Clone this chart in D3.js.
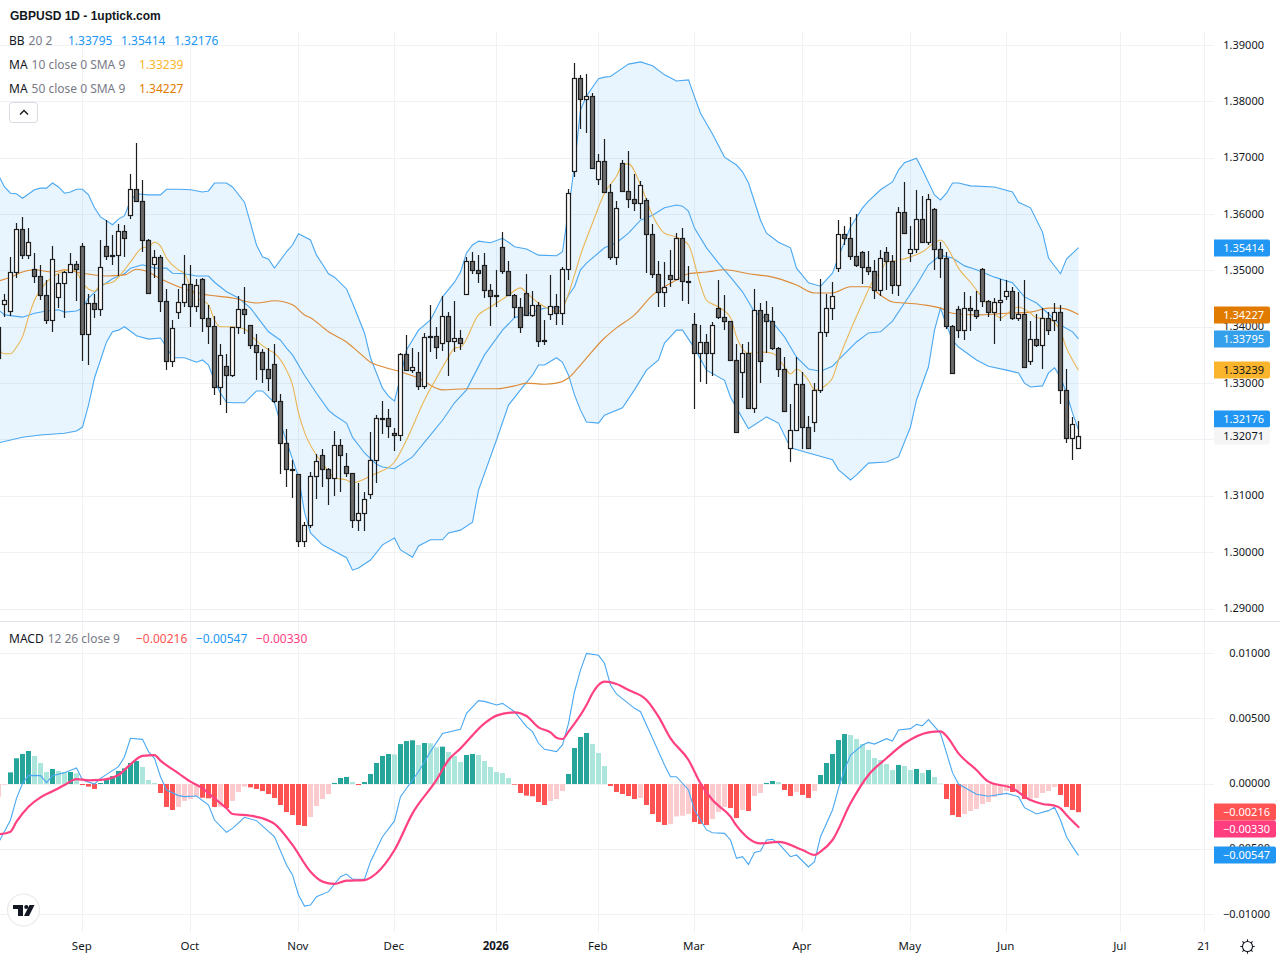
<!DOCTYPE html>
<html>
<head>
<meta charset="utf-8">
<title>GBPUSD 1D</title>
<script src="https://cdn.jsdelivr.net/npm/d3@7/dist/d3.min.js"></script>
<style>
html,body{margin:0;padding:0;background:#fff;}
svg{display:block;}
text{font-family:"Noto Sans",Roboto,sans-serif;}
</style>
</head>
<body>
<svg id="chart" width="1280" height="960"></svg>
<script>
// Daily OHLC, session index -1 is the first (partly cut off) candle.
const firstSession = -1;
const opens = [1.34011,1.34407,1.34295,1.34975,1.35738,1.35277,1.35028,1.34904,1.34567,1.34123,1.34532,1.3478,1.34975,1.35117,1.35437,1.33875,1.34425,1.34319,1.35437,1.35277,1.35277,1.35703,1.35987,1.36448,1.36235,1.35543,1.35117,1.35241,1.34461,1.33396,1.34265,1.34443,1.34762,1.34372,1.34851,1.34159,1.34017,1.32935,1.33307,1.33148,1.33999,1.34319,1.34035,1.3368,1.33556,1.33254,1.33343,
1.32686,1.31941,1.31479,1.31391,1.30202,1.30486,1.31355,1.31728,1.31479,1.3132,1.31905,1.31533,1.31408,1.30574,1.30699,1.31036,1.31639,1.32384,1.32384,1.32118,1.32083,1.3352,1.33236,1.33201,1.32952,1.3384,1.3384,1.33715,1.34194,
1.33751,1.33804,1.34585,1.3517,1.35011,1.35099,1.34656,1.34567,1.35419,1.34993,1.34567,1.34354,1.34603,1.34212,1.3439,1.33769,1.3423,1.34372,1.34248,1.35028,1.36767,1.38418,1.38045,1.38098,1.36626,1.36945,1.36395,1.35241,1.36909,1.36413,1.36271,1.362,1.36253,1.3565,1.3494,1.3462,1.34922,1.34851,1.35579,1.34816,
1.34053,1.33538,1.33733,1.33538,1.34336,1.34177,1.34106,1.33414,1.33201,1.33538,1.32562,1.34301,1.3423,1.34106,1.33627,1.33254,1.31852,1.32172,1.32988,1.32225,1.32313,1.32881,1.33911,1.34336,1.35046,1.3565,1.35579,1.35259,1.3533,1.35064,
1.34993,1.34656,1.3533,1.3517,1.34745,1.3604,1.35312,1.35383,1.35916,1.35508,1.36093,1.35383,1.35224,1.34017,1.34319,1.33946,1.34336,1.34301,1.35028,1.34461,1.34265,1.34443,1.34549,1.34638,1.34159,1.3423,1.33396,1.33786,1.3368,1.34159,1.34123,1.34265,1.32881,1.3203,1.31852];
const highs = [1.34129,1.34591,1.35247,1.35845,1.35951,1.35756,1.35312,1.35105,1.34833,1.35437,1.34946,1.35,1.35312,1.35176,1.3549,1.34591,1.34591,1.35543,1.35898,1.35632,1.35827,1.35809,1.36714,1.37264,1.36608,1.35562,1.35366,1.35277,1.34674,1.34123,1.34674,1.35277,1.35105,1.34851,1.34869,1.3439,1.34194,1.33698,1.33526,1.34005,1.34549,1.34709,1.34047,1.33875,1.33609,1.33627,1.33698,
1.3281,1.32195,1.31639,1.31391,1.30539,1.31426,1.31746,1.31834,1.31497,1.32154,1.32012,1.31763,1.31408,1.31237,1.31083,1.32136,1.32438,1.32692,1.32544,1.32207,1.33538,1.33857,1.33627,1.33556,1.33893,1.3439,1.33999,1.34555,1.34265,
1.34461,1.33946,1.35241,1.3533,1.35277,1.35312,1.34762,1.35011,1.35685,1.3517,1.34585,1.34514,1.3494,1.34638,1.34443,1.34123,1.34922,1.34585,1.35064,1.36448,1.38684,1.38471,1.38489,1.38152,1.37069,1.37335,1.36537,1.36235,1.36963,1.37122,1.36714,1.3659,1.36288,1.35827,1.3517,1.35153,1.35366,1.35667,1.35756,1.35082,
1.34248,1.34035,1.33875,1.34088,1.34833,1.34567,1.34118,1.33698,1.33698,1.33733,1.34674,1.34425,1.34461,1.34354,1.33645,1.33467,1.32633,1.33467,1.33201,1.3242,1.33006,1.34851,1.34585,1.34798,1.35898,1.35792,1.35951,1.36004,1.35348,1.35348,
1.35188,1.35366,1.35419,1.35277,1.36129,1.36572,1.35792,1.3643,1.36324,1.36359,1.36112,1.35508,1.3533,1.34035,1.34372,1.3462,1.34549,1.34638,1.35046,1.34479,1.34514,1.34851,1.34833,1.34709,1.3462,1.34833,1.34106,1.3423,1.34336,1.34265,1.34425,1.3439,1.33254,1.32402,1.32331];
const lows = [1.3342,1.34189,1.34206,1.34881,1.35218,1.35218,1.34792,1.34484,1.34064,1.33922,1.34342,1.34171,1.34975,1.34467,1.33408,1.33337,1.34171,1.34206,1.352,1.35111,1.34916,1.35253,1.35922,1.36217,1.35342,1.34585,1.34869,1.34277,1.33248,1.33301,1.34153,1.34366,1.34011,1.34277,1.33922,1.33709,1.32804,1.32627,1.32485,1.33112,1.33887,1.33875,1.33609,1.33071,1.33006,1.32875,1.32651,
1.31403,1.31172,1.30977,1.30107,1.30107,1.30438,1.30959,1.31172,1.30852,1.31012,1.31083,1.31349,1.30444,1.30391,1.30391,1.30959,1.31243,1.32106,1.3203,1.31811,1.31988,1.33218,1.33183,1.32881,1.32899,1.33556,1.33431,1.33573,1.3313,
1.33556,1.33591,1.34567,1.3494,1.3478,1.34514,1.34029,1.34354,1.3494,1.3455,1.34159,1.33905,1.34195,1.34177,1.33644,1.3368,1.34123,1.34035,1.34035,1.34833,1.36661,1.37513,1.37442,1.36803,1.36519,1.36377,1.35188,1.35099,1.36395,1.36111,1.36058,1.35916,1.34958,1.34869,1.34354,1.34354,1.34709,1.34833,1.34461,1.34407,
1.32544,1.33035,1.32988,1.3313,1.34141,1.33946,1.33396,1.32118,1.32739,1.32544,1.32473,1.33006,1.33538,1.33591,1.33112,1.32497,1.31604,1.32154,1.31834,1.31834,1.32136,1.32828,1.33822,1.34123,1.34975,1.35454,1.35188,1.35064,1.34762,1.34922,
1.34496,1.34549,1.34656,1.34585,1.34549,1.3565,1.35153,1.35312,1.3549,1.35454,1.35011,1.34869,1.33964,1.33165,1.33804,1.33769,1.33928,1.34141,1.34354,1.34177,1.33698,1.34106,1.34478,1.34123,1.34106,1.33271,1.33325,1.33644,1.33254,1.33857,1.33928,1.32633,1.31941,1.31639,1.31852];
const closes = [1.33461,1.34478,1.34975,1.35738,1.35277,1.35508,1.34904,1.34567,1.34123,1.35206,1.3478,1.34975,1.35117,1.35028,1.33875,1.34425,1.34319,1.35064,1.35259,1.35259,1.35703,1.35579,1.36448,1.36235,1.35543,1.34603,1.35241,1.34461,1.33396,1.33982,1.34443,1.34762,1.34372,1.34745,1.34159,1.34017,1.32935,1.33502,1.33148,1.33999,1.34319,1.3423,1.3368,1.33556,1.33254,1.33094,1.32686,
1.31941,1.31479,1.31473,1.30202,1.30486,1.31355,1.31621,1.31479,1.3132,1.31905,1.31728,1.31408,1.30574,1.30699,1.30947,1.31639,1.32384,1.32378,1.32243,1.32083,1.3352,1.33236,1.33289,1.32952,1.33822,1.33822,1.33644,1.34194,1.33751,
1.33804,1.33715,1.3517,1.35011,1.34958,1.34656,1.34549,1.34549,1.34993,1.34567,1.34354,1.33999,1.34212,1.3439,1.33751,1.33751,1.34372,1.34248,1.35028,1.36377,1.38418,1.38045,1.38098,1.36821,1.36945,1.36395,1.35241,1.36111,1.36413,1.36271,1.362,1.36519,1.3565,1.3494,1.3462,1.34709,1.34851,1.35579,1.34816,1.34804,
1.33538,1.33733,1.33538,1.34035,1.34177,1.34106,1.33414,1.32136,1.33538,1.32562,1.34301,1.33396,1.34106,1.33627,1.33254,1.32509,1.32172,1.32988,1.32225,1.31852,1.32881,1.33911,1.34336,1.34549,1.3565,1.35579,1.35259,1.35099,1.35064,1.34993,
1.34656,1.35224,1.3517,1.34745,1.3604,1.35667,1.35383,1.35916,1.35508,1.36271,1.35383,1.35224,1.34017,1.33183,1.33946,1.34336,1.34301,1.34194,1.34461,1.34265,1.34443,1.34478,1.34638,1.34159,1.3423,1.33289,1.33786,1.3368,1.34159,1.33946,1.34265,1.32881,1.3203,1.32278,1.32071];

// Bollinger bands and moving averages as [session, price] readings.
const bbUpper = [[-1,1.3670],[0,1.3649],[1,1.3638],[2,1.3637],[3,1.3629],[5,1.3644],[6,1.3647],[7,1.3647],[8,1.3656],[9,1.3649],[10,1.3638],[11,1.3640],[12,1.3645],[13,1.3645],[14,1.3635],[15,1.3612],[16,1.3596],[18,1.3582],[19,1.3592],[20,1.3598],[21,1.3625],[22,1.3637],[24,1.3635],[26,1.3635],[27,1.3645],[29,1.3645],[31,1.3644],[33,1.3640],[34,1.3642],[35,1.3656],[37,1.3656],[38,1.3649],[40,1.3622],[41,1.3585],[42,1.3546],[43,1.3525],[44,1.3521],[45,1.3505],[47,1.3534],[48,1.3546],[49,1.3566],[51,1.3555],[52,1.3528],[53,1.3512],[54,1.3495],[55,1.3489],[57,1.3468],[58,1.3443],[60,1.3390],[61,1.3346],[62,1.3319],[63,1.3292],[64,1.3278],[65,1.3269],[66,1.3312],[67,1.3360],[69,1.3395],[71,1.3413],[73,1.3454],[75,1.3480],[76,1.3498],[77,1.3532],[78,1.3546],[79,1.3553],[81,1.3550],[83,1.3558],[84,1.3551],[85,1.3543],[87,1.3539],[89,1.3528],[92,1.3527],[93,1.3534],[94,1.3608],[95,1.3688],[96,1.3786],[97,1.3810],[98,1.3826],[99,1.3841],[100,1.3844],[101,1.3845],[103,1.3860],[104,1.3867],[106,1.3871],[108,1.3864],[110,1.3848],[112,1.3837],[114,1.3839],[115,1.3809],[116,1.3780],[118,1.3743],[120,1.3702],[122,1.3688],[123,1.3676],[124,1.3656],[126,1.3590],[127,1.3567],[129,1.3551],[131,1.3541],[132,1.3505],[134,1.3479],[136,1.3473],[138,1.3496],[139,1.3525],[141,1.3578],[143,1.3612],[144,1.3624],[146,1.3644],[148,1.3658],[149,1.3679],[150,1.3692],[152,1.3700],[153,1.3679],[155,1.3635],[156,1.3626],[157,1.3638],[158,1.3656],[159,1.3656],[161,1.3651],[165,1.3649],[168,1.3640],[169,1.3622],[171,1.3612],[173,1.3569],[174,1.3523],[176,1.3495],[177,1.3521],[179,1.35414]];
const bbMiddle = [[-1,1.3431],[0,1.3422],[3,1.3418],[5,1.3425],[7,1.3429],[9,1.3431],[10,1.3427],[12,1.3429],[13,1.3434],[14,1.3452],[16,1.3472],[18,1.3486],[20,1.3495],[21,1.3505],[23,1.3511],[25,1.3505],[27,1.3505],[28,1.3496],[30,1.3495],[32,1.3491],[34,1.3491],[35,1.3480],[37,1.3463],[39,1.3452],[41,1.3434],[44,1.3392],[46,1.3377],[47,1.3363],[48,1.3351],[50,1.3315],[52,1.3283],[54,1.3253],[55,1.3244],[57,1.3230],[58,1.3205],[60,1.3177],[62,1.3157],[63,1.3152],[65,1.3149],[68,1.3170],[71,1.3209],[73,1.3235],[75,1.3266],[77,1.3289],[80,1.3351],[83,1.3395],[85,1.3417],[88,1.3427],[90,1.3434],[93,1.3436],[94,1.3457],[95,1.3472],[96,1.3502],[97,1.3514],[100,1.3541],[102,1.3550],[104,1.3567],[106,1.3590],[108,1.3599],[110,1.3612],[112,1.3617],[113,1.3615],[114,1.3606],[115,1.3576],[117,1.3541],[119,1.3514],[121,1.3489],[123,1.3463],[125,1.3427],[128,1.3409],[130,1.3383],[132,1.3347],[134,1.3326],[136,1.3322],[138,1.3331],[139,1.3342],[142,1.3374],[144,1.3390],[146,1.3392],[148,1.3411],[150,1.3443],[152,1.3475],[154,1.3511],[156,1.3528],[158,1.3523],[160,1.3509],[162,1.3502],[165,1.3489],[168,1.3479],[170,1.3454],[172,1.3443],[174,1.3424],[176,1.3404],[178,1.3392],[179,1.33795]];
const bbLower = [[-1,1.3195],[3,1.3205],[6,1.3209],[10,1.3212],[12,1.3216],[13,1.3223],[14,1.3262],[15,1.3310],[16,1.3342],[17,1.3374],[18,1.3392],[19,1.3395],[20,1.3401],[22,1.3385],[24,1.3379],[26,1.3381],[27,1.3365],[28,1.3346],[30,1.3346],[32,1.3338],[33,1.3342],[34,1.3333],[35,1.3305],[36,1.3283],[37,1.3267],[38,1.3266],[40,1.3266],[42,1.3287],[43,1.3287],[45,1.3266],[46,1.3230],[49,1.3134],[50,1.3072],[51,1.3035],[53,1.3014],[57,1.2991],[58,1.2969],[59,1.2973],[61,1.2987],[63,1.3014],[65,1.3026],[66,1.3005],[68,1.2992],[69,1.3012],[71,1.3023],[73,1.3023],[74,1.3035],[76,1.3040],[78,1.3054],[79,1.3111],[82,1.3200],[84,1.3262],[86,1.3289],[88,1.3315],[89,1.3333],[90,1.3333],[92,1.3346],[93,1.3338],[94,1.3315],[95,1.3280],[96,1.3253],[97,1.3232],[99,1.3230],[100,1.3244],[103,1.3257],[105,1.3289],[107,1.3324],[109,1.3342],[110,1.3372],[112,1.3395],[113,1.3395],[115,1.3363],[117,1.3324],[120,1.3306],[121,1.3276],[122,1.3257],[124,1.3220],[127,1.3241],[129,1.3230],[131,1.3186],[134,1.3177],[137,1.3168],[138,1.3165],[139,1.3147],[141,1.3129],[142,1.3138],[144,1.3159],[147,1.3161],[149,1.3170],[151,1.3223],[152,1.3271],[154,1.3330],[155,1.3395],[156,1.3434],[157,1.3404],[158,1.3377],[159,1.3365],[162,1.3342],[164,1.3331],[167,1.3324],[169,1.3319],[170,1.3301],[171,1.3294],[173,1.3296],[174,1.3319],[175,1.3328],[176,1.3312],[177,1.3283],[178,1.3248],[179,1.32176]];
const ma10 = [[-1,1.3360],[0,1.3353],[1,1.3353],[2,1.3365],[3,1.3383],[4,1.3418],[5,1.3448],[6,1.3466],[7,1.3480],[9,1.3496],[11,1.3503],[12,1.3498],[13,1.3479],[14,1.3468],[15,1.3464],[16,1.3475],[18,1.3480],[20,1.3502],[21,1.3516],[23,1.3541],[24,1.3543],[25,1.3551],[26,1.3544],[27,1.3523],[29,1.3502],[30,1.3495],[31,1.3472],[32,1.3454],[34,1.3440],[35,1.3413],[36,1.3401],[38,1.3401],[40,1.3397],[42,1.3376],[44,1.3360],[45,1.3354],[47,1.3324],[48,1.3298],[49,1.3248],[50,1.3214],[52,1.3173],[53,1.3159],[55,1.3133],[57,1.3129],[58,1.3124],[61,1.3136],[62,1.3141],[65,1.3161],[67,1.3200],[70,1.3271],[72,1.3310],[74,1.3347],[75,1.3363],[76,1.3365],[79,1.3422],[81,1.3436],[84,1.3457],[86,1.3470],[87,1.3461],[89,1.3443],[91,1.3431],[92,1.3427],[93,1.3434],[95,1.3493],[96,1.3528],[98,1.3585],[100,1.3638],[102,1.3668],[103,1.3688],[104,1.3690],[106,1.3653],[108,1.3599],[110,1.3567],[112,1.3560],[114,1.3546],[116,1.3475],[117,1.3448],[119,1.3436],[121,1.3417],[122,1.3383],[124,1.3354],[126,1.3356],[128,1.3354],[130,1.3330],[131,1.3317],[132,1.3326],[134,1.3306],[135,1.3289],[137,1.3298],[138,1.3310],[139,1.3342],[141,1.3395],[143,1.3443],[145,1.3487],[146,1.3498],[147,1.3516],[149,1.3519],[151,1.3525],[153,1.3534],[155,1.3550],[156,1.3555],[158,1.3525],[159,1.3505],[161,1.3480],[163,1.3452],[164,1.3438],[166,1.3417],[168,1.3431],[169,1.3436],[171,1.3425],[172,1.3417],[174,1.3415],[176,1.3393],[177,1.3363],[178,1.3342],[179,1.33239]];
const ma50 = [[-1,1.3482],[1,1.3489],[3,1.3498],[5,1.3502],[8,1.3498],[10,1.3502],[13,1.3496],[17,1.3491],[20,1.3493],[22,1.3503],[24,1.3498],[26,1.3486],[29,1.3472],[33,1.3459],[38,1.3452],[42,1.3443],[45,1.3447],[48,1.3440],[50,1.3422],[51,1.3417],[54,1.3392],[57,1.3374],[59,1.3356],[61,1.3338],[63,1.3330],[66,1.3321],[69,1.3310],[72,1.3292],[73,1.3289],[77,1.3291],[82,1.3291],[85,1.3296],[87,1.3301],[90,1.3299],[92,1.3301],[94,1.3310],[96,1.3333],[100,1.3381],[102,1.3399],[105,1.3422],[108,1.3457],[112,1.3484],[114,1.3495],[117,1.3498],[120,1.3502],[124,1.3495],[128,1.3489],[132,1.3475],[135,1.3461],[138,1.3461],[141,1.3472],[144,1.3472],[146,1.3457],[148,1.3445],[150,1.3443],[153,1.3440],[156,1.3434],[158,1.3425],[162,1.3422],[167,1.3425],[171,1.3427],[174,1.3434],[176,1.3434],[179,1.34227]];

// MACD pane: histogram per session, then the two lines as readings.
const macdHist = [-0.00097,-0.00005,0.00089,0.00197,0.0023,0.00253,0.00215,0.00161,0.00092,0.00115,0.001,0.00089,0.00092,0.00082,-0.00008,-0.0002,-0.00038,0.00008,0.00038,0.00061,0.001,0.0012,0.00161,0.00176,0.0013,0.00031,0.00008,-0.00069,-0.00176,-0.00199,-0.00176,-0.0013,-0.00115,-0.00094,-0.00105,-0.0011,-0.00176,-0.00174,-0.00184,-0.0013,-0.00061,-0.0002,-0.00026,-0.00038,-0.00054,-0.00077,-0.00107,-0.00161,-0.00215,-0.00238,-0.00314,-0.00322,-0.00253,-0.00169,-0.00115,-0.00077,0.00008,0.00046,0.00054,0.00015,-0.00008,0.00015,0.00077,0.00161,0.00215,0.0023,0.00227,0.00306,0.00329,0.00335,0.00299,0.00314,0.00312,0.00281,0.00286,0.00245,0.00215,0.00169,0.00222,0.0023,0.00222,0.00176,0.0013,0.00092,0.00084,0.00046,-0.00005,-0.00069,-0.00089,-0.00094,-0.00138,-0.00161,-0.0013,-0.00115,-0.00054,0.00077,0.00276,0.0036,0.00391,0.00306,0.00238,0.00138,-0.00015,-0.00061,-0.00077,-0.00092,-0.00115,-0.00107,-0.00161,-0.0023,-0.00291,-0.00314,-0.00306,-0.00248,-0.00243,-0.0023,-0.00291,-0.00306,-0.00314,-0.00268,-0.00215,-0.00176,-0.00184,-0.00261,-0.00199,-0.00207,-0.00092,-0.00069,0.00008,0.00023,0.00015,-0.00046,-0.00092,-0.00061,-0.00084,-0.00107,-0.00054,0.00069,0.00161,0.0023,0.00337,0.00383,0.00375,0.00345,0.00306,0.00261,0.00199,0.00184,0.00153,0.00107,0.00146,0.00138,0.00107,0.00115,0.00084,0.00107,0.00054,0.00003,-0.00115,-0.00238,-0.00253,-0.0023,-0.00207,-0.00192,-0.00153,-0.00138,-0.001,-0.00084,-0.00054,-0.00061,-0.00054,-0.00115,-0.00112,-0.00107,-0.00069,-0.00054,-0.00023,-0.00084,-0.00176,-0.00199,-0.00216];
const macdLine = [[-1,-0.0045],[1,-0.00276],[2,-0.0011],[3,0.00005],[4,0.00066],[6,0.00064],[7,0.0001],[8,0.00064],[10,0.00087],[12,0.00123],[13,0.00031],[15,0],[16,0.00043],[19,0.00133],[20,0.00209],[21,0.0035],[23,0.00342],[24,0.00248],[25,0.00197],[26,0.00056],[27,-0.00046],[29,-0.00089],[30,-0.00097],[32,-0.00092],[34,-0.00161],[35,-0.00276],[37,-0.0037],[38,-0.0034],[40,-0.00255],[42,-0.00281],[45,-0.00404],[47,-0.00621],[48,-0.00697],[49,-0.0085],[50,-0.00935],[51,-0.00927],[52,-0.00863],[54,-0.00825],[56,-0.0071],[57,-0.0069],[58,-0.0073],[60,-0.0073],[61,-0.00595],[63,-0.00404],[65,-0.00283],[66,-0.00097],[68,0.00031],[69,0.00094],[71,0.00248],[73,0.00388],[76,0.00419],[77,0.00541],[79,0.00639],[80,0.00633],[82,0.00605],[83,0.00618],[85,0.00554],[87,0.00439],[88,0.00401],[89,0.00312],[90,0.00266],[92,0.00248],[93,0.00299],[94,0.00465],[95,0.00707],[96,0.00873],[97,0.01001],[99,0.00986],[100,0.00925],[101,0.00759],[102,0.0069],[105,0.0058],[106,0.00554],[108,0.0035],[110,0.00146],[111,0.00056],[112,0.00056],[114,-0.00046],[115,-0.00199],[117,-0.00352],[118,-0.00373],[120,-0.00378],[121,-0.00429],[122,-0.0057],[123,-0.00557],[124,-0.00616],[125,-0.00524],[126,-0.00513],[127,-0.00429],[128,-0.00424],[129,-0.00455],[131,-0.00557],[132,-0.00544],[134,-0.00636],[135,-0.00595],[136,-0.00404],[138,-0.00199],[139,-0.00033],[140,0.00107],[141,0.00222],[143,0.00299],[144,0.00319],[145,0.00306],[147,0.00347],[148,0.00329],[149,0.00414],[151,0.00424],[152,0.00457],[153,0.00447],[154,0.00493],[156,0.00388],[158,0.00087],[159,0],[162,-0.00079],[164,-0.00094],[167,-0.00072],[169,-0.00097],[170,-0.00181],[172,-0.0023],[174,-0.00204],[175,-0.00179],[176,-0.00276],[177,-0.00404],[178,-0.0048],[179,-0.00547]];
const signalLine = [[-1,-0.00386],[1,-0.00365],[2,-0.00289],[4,-0.00174],[6,-0.00102],[8,-0.00056],[10,-0.00008],[12,0.00038],[14,0.00028],[16,0.00031],[19,0.00069],[21,0.00151],[23,0.00215],[25,0.00222],[26,0.00179],[29,0.00082],[31,0.00018],[33,-0.00033],[35,-0.0011],[37,-0.00186],[38,-0.0023],[41,-0.00243],[43,-0.00263],[45,-0.00306],[48,-0.00467],[51,-0.00672],[53,-0.00748],[55,-0.00766],[57,-0.00741],[60,-0.00736],[62,-0.00684],[65,-0.00506],[68,-0.00225],[72,0.00031],[74,0.00184],[76,0.00273],[80,0.00465],[82,0.00524],[85,0.00549],[87,0.00521],[89,0.00434],[91,0.00396],[92,0.00355],[93,0.00345],[94,0.00401],[97,0.00605],[98,0.00695],[99,0.00759],[100,0.00784],[102,0.00766],[104,0.0072],[107,0.00644],[109,0.00516],[111,0.0035],[114,0.00184],[116,0.00005],[118,-0.00123],[121,-0.0025],[122,-0.00319],[123,-0.00373],[124,-0.00416],[126,-0.00455],[129,-0.00444],[133,-0.00506],[135,-0.00544],[136,-0.00518],[138,-0.00429],[141,-0.00148],[144,0.00069],[147,0.00197],[150,0.00312],[154,0.00396],[156,0.00404],[157,0.00368],[159,0.00235],[162,0.00107],[164,0.00018],[168,-0.00033],[171,-0.00123],[173,-0.00153],[175,-0.00166],[176,-0.00186],[177,-0.00238],[179,-0.0033]];

// Axis ticks.
const priceTicks = [1.39,1.38,1.37,1.36,1.35,1.34,1.33,1.32,1.31,1.30,1.29];
const macdTicks = [0.01,0.005,0,-0.005,-0.01];
const timeTickSessions = [13,31,49,65,82,99,115,133,151,167,186,200];
const timeTickLabels = ["Sep","Oct","Nov","Dec","2026","Feb","Mar","Apr","May","Jun","Jul","21"];

const svg = d3.select("#chart");
const x = d3.scaleLinear().domain([0,1]).range([4.5,10.5]);
const y = d3.scaleLinear().domain([1.29,1.39]).range([609.05,45.55]);
const ym = d3.scaleLinear().domain([-0.01,0.01]).range([914.5,653.5]);
const crisp = v => Math.floor(v) + 0.5;
const fmtP = d3.format(".5f");
const fmtM = v => d3.format(".5f")(v).replace("-", "\u2212");
const last = a => a[a.length-1];
const lastV = a => last(a)[1];

const C = {grid:"#f0f1f4", sep:"#e0e3eb", blue:"#2196f3", lineBlue:"#4aa8f2", ma10:"#eab654", ma50:"#dc8a35",
  text:"#131722", muted:"#787b86", up:"#26a69a", upSoft:"#ace5dc", down:"#ff5252", downSoft:"#fccbcd", pink:"#ff4081"};

const defs = svg.append("defs");
defs.append("clipPath").attr("id","mainClip").append("rect").attr("x",0).attr("y",0).attr("width",1214).attr("height",621);
defs.append("clipPath").attr("id","macdClip").append("rect").attr("x",0).attr("y",622).attr("width",1214).attr("height",310);

// Grid
const grid = svg.append("g").attr("stroke",C.grid).attr("stroke-width",1);
grid.selectAll(".vm").data(timeTickSessions).join("line").attr("class","vm").attr("x1",d=>crisp(x(d))).attr("x2",d=>crisp(x(d))).attr("y1",32).attr("y2",621);
grid.selectAll(".vb").data(timeTickSessions).join("line").attr("class","vb").attr("x1",d=>crisp(x(d))).attr("x2",d=>crisp(x(d))).attr("y1",622).attr("y2",932);
grid.selectAll(".hp").data(priceTicks).join("line").attr("class","hp").attr("x1",0).attr("x2",1214).attr("y1",d=>crisp(y(d))).attr("y2",d=>crisp(y(d)));
grid.selectAll(".hm").data(macdTicks).join("line").attr("class","hm").attr("x1",0).attr("x2",1214).attr("y1",d=>crisp(ym(d))).attr("y2",d=>crisp(ym(d)));
svg.append("line").attr("x1",0).attr("x2",1280).attr("y1",621.5).attr("y2",621.5).attr("stroke",C.sep);
// The top legend row sits on a white strip above the first grid line.
svg.append("rect").attr("x",0).attr("y",0).attr("width",228).attr("height",45).attr("fill","#fff");

// Price pane
const main = svg.append("g").attr("clip-path","url(#mainClip)");
const linePrice = d3.line().x(d=>x(d[0])).y(d=>y(d[1]));
const smoothPrice = d3.line().x(d=>x(d[0])).y(d=>y(d[1])).curve(d3.curveMonotoneX);
main.append("path").attr("d", linePrice(bbUpper.concat(bbLower.slice().reverse()))+"Z").attr("fill","rgba(33,150,243,0.1)");
main.append("line").attr("x1",0).attr("x2",1214)
  .attr("y1",crisp(y(last(closes)))).attr("y2",crisp(y(last(closes)))).attr("stroke","#f3f5f7").attr("stroke-dasharray","1 2");
[[bbUpper,C.lineBlue],[bbLower,C.lineBlue],[bbMiddle,C.lineBlue]].forEach(([s,col])=>{
  main.append("path").attr("d",linePrice(s)).attr("fill","none").attr("stroke",col).attr("stroke-width",1.1);
});
[[ma50,C.ma50],[ma10,C.ma10]].forEach(([s,col])=>{
  main.append("path").attr("d",smoothPrice(s)).attr("fill","none").attr("stroke",col).attr("stroke-width",1.1);
});

const candles = closes.map((c,i)=>({s:i+firstSession,o:opens[i],h:highs[i],l:lows[i],c}));
const cg = main.selectAll(".candle").data(candles).join("g").attr("class","candle");
cg.append("line").attr("x1",d=>x(d.s)).attr("x2",d=>x(d.s)).attr("y1",d=>Math.round(y(d.h))).attr("y2",d=>Math.round(y(d.l)))
  .attr("stroke","#1d1d1d").attr("stroke-width",1.2);
cg.append("rect")
  .attr("x",d=>x(d.s)-2).attr("width",4)
  .attr("y",d=>Math.round(y(Math.max(d.o,d.c)))+0.5)
  .attr("height",d=>Math.max(1,Math.round(y(Math.min(d.o,d.c)))-Math.round(y(Math.max(d.o,d.c)))))
  .attr("fill",d=>d.c>=d.o?"#fafafa":"#6c6c6c").attr("stroke","#1d1d1d").attr("stroke-width",1.2);

// MACD pane
const low = svg.append("g").attr("clip-path","url(#macdClip)");
const histColor = (v,i)=>{
  const prev = i>0 ? macdHist[i-1] : null;
  const rising = prev===null || v>=prev;
  return v>=0 ? (rising?C.up:C.upSoft) : (rising?C.downSoft:C.down);
};
low.selectAll(".bar").data(macdHist).join("rect").attr("class","bar")
  .attr("x",(d,i)=>x(i+firstSession)-2.5).attr("width",5)
  .attr("y",d=>Math.min(ym(d),ym(0))).attr("height",d=>Math.abs(ym(d)-ym(0)))
  .attr("fill",histColor);
const lineMacd = d3.line().x(d=>x(d[0])).y(d=>ym(d[1]));
const smoothMacd = d3.line().x(d=>x(d[0])).y(d=>ym(d[1])).curve(d3.curveMonotoneX);
low.append("path").attr("d",lineMacd(macdLine)).attr("fill","none").attr("stroke",C.lineBlue).attr("stroke-width",1.1);
low.append("path").attr("d",smoothMacd(signalLine)).attr("fill","none").attr("stroke",C.pink).attr("stroke-width",2.2).attr("stroke-linejoin","round").attr("stroke-linecap","round");

// Right axis labels
const axisFont = 11;
svg.selectAll(".pt").data(priceTicks).join("text").attr("class","pt")
  .attr("x",1264).attr("y",d=>y(d)+3).attr("text-anchor","end").attr("font-size",axisFont).attr("fill",C.text).text(fmtP);
svg.selectAll(".mt").data(macdTicks).join("text").attr("class","mt")
  .attr("x",1270).attr("y",d=>ym(d)+3).attr("text-anchor","end").attr("font-size",axisFont).attr("fill",C.text).text(fmtM);

function badge(yc, txt, bg, fg, w, anchorX){
  const by = Math.round(yc)-8.5;
  svg.append("path")
    .attr("d",`M1214 ${by}H${1214+w-2}q2 0 2 2V${by+15}q0 2 -2 2H1214Z`).attr("fill",bg);
  svg.append("text").attr("x",anchorX).attr("y",by+12.4).attr("text-anchor","end")
    .attr("font-size",axisFont).attr("fill",fg).text(txt);
}
const closeBadgeY = y(last(closes))+0.5;
const histBadgeY = ym(last(macdHist));
badge(y(lastV(bbUpper)), fmtP(lastV(bbUpper)), C.blue, "#fff", 56, 1264);
badge(y(lastV(ma50)), fmtP(lastV(ma50)), "#e17b00", "#fff", 56, 1264);
badge(y(lastV(bbMiddle)), fmtP(lastV(bbMiddle)), "#34a0eb", "#fff", 56, 1264);
badge(y(lastV(ma10)), fmtP(lastV(ma10)), "#fbb52d", C.text, 56, 1264);
// Tags that would collide are stacked against their neighbour.
badge(closeBadgeY-17, fmtP(lastV(bbLower)), C.blue, "#fff", 56, 1264);
badge(closeBadgeY, fmtP(last(closes)), "#f5f5f5", C.text, 56, 1264);
badge(histBadgeY, fmtM(last(macdHist)), C.down, "#fff", 62, 1270);
badge(histBadgeY+17, fmtM(lastV(signalLine)), "#ff3d7f", "#fff", 62, 1270);
badge(ym(lastV(macdLine)), fmtM(lastV(macdLine)), C.blue, "#fff", 62, 1270);

// Time axis
svg.selectAll(".tt").data(timeTickSessions).join("text").attr("class","tt")
  .attr("x",d=>x(d)-0.7).attr("y",950).attr("text-anchor","middle").attr("font-size",11.5)
  .attr("font-weight",(d,i)=>timeTickLabels[i]==="2026"?700:400).attr("fill",C.text)
  .text((d,i)=>timeTickLabels[i]);

// Legend
svg.append("text").attr("x",10).attr("y",20).attr("font-family","'Liberation Sans',Arial,sans-serif").attr("font-size",12).attr("font-weight",700).attr("fill",C.text).style("font-family","'Liberation Sans',Arial,sans-serif").text("GBPUSD 1D - 1uptick.com");
function legendRow(yy, name, params, values){
  const t = svg.append("text").attr("x",9).attr("y",yy).attr("font-size",12).attr("fill",C.text);
  t.append("tspan").text(name);
  t.append("tspan").attr("dx",4).attr("fill",C.muted).text(params);
  values.forEach(v=>{
    svg.append("text").attr("x",v[0]).attr("y",yy).attr("font-size",12).attr("fill",v[2]).text(v[1]);
  });
}
legendRow(45,"BB","20 2",[[68,fmtP(lastV(bbMiddle)),"#2196f3"],[121,fmtP(lastV(bbUpper)),"#2196f3"],[174,fmtP(lastV(bbLower)),"#2196f3"]]);
legendRow(69,"MA","10 close 0 SMA 9",[[139,fmtP(lastV(ma10)),"#fbb52d"]]);
legendRow(93,"MA","50 close 0 SMA 9",[[139,fmtP(lastV(ma50)),"#e17b00"]]);
legendRow(643,"MACD","12 26 close 9",[[136,fmtM(last(macdHist)),C.down],[196,fmtM(lastV(macdLine)),C.blue],[256,fmtM(lastV(signalLine)),C.pink]]);

// Legend collapse control
svg.append("rect").attr("x",9.5).attr("y",102.5).attr("width",28).attr("height",20).attr("rx",3).attr("fill","#fff").attr("stroke","#d8dae2");
svg.append("path").attr("d","M20 114.5l4 -4l4 4").attr("fill","none").attr("stroke",C.text).attr("stroke-width",1.4);

// Logo badge
svg.append("circle").attr("cx",23.5).attr("cy",910).attr("r",16).attr("fill","#fff").attr("stroke","#e9e9ec").attr("stroke-width",1.2);
const logo = svg.append("g").attr("fill",C.text);
logo.append("path").attr("d","M13 905H23V916H18V909H13Z");
logo.append("circle").attr("cx",26.3).attr("cy",907).attr("r",2.1);
logo.append("path").attr("d","M29.5 905H34.5L29 916H24Z");

// Settings sun icon
const sun = svg.append("g").attr("transform","translate(1247.5,946.5)").attr("stroke",C.text).attr("fill","none").attr("stroke-width",1.1);
sun.append("circle").attr("r",5);
d3.range(8).forEach(i=>{
  const a=i*Math.PI/4;
  sun.append("line").attr("x1",Math.cos(a)*5).attr("y1",Math.sin(a)*5).attr("x2",Math.cos(a)*7.2).attr("y2",Math.sin(a)*7.2);
});
</script>
</body>
</html>
